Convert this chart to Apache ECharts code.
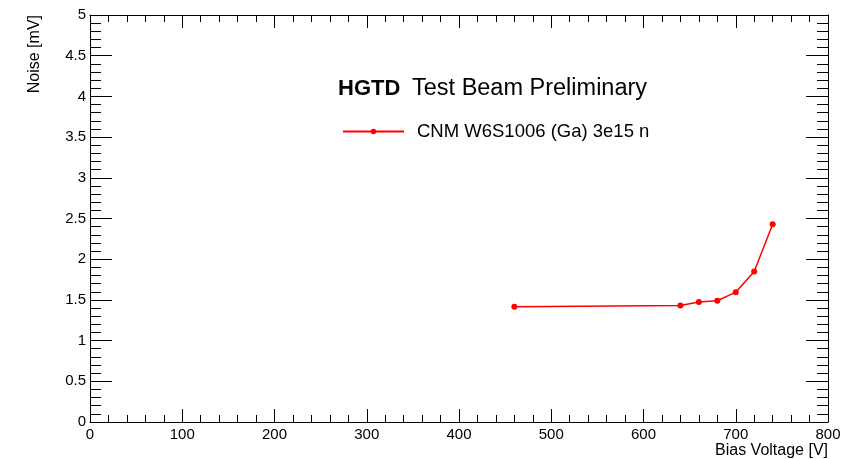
<!DOCTYPE html>
<html><head><meta charset="utf-8">
<script src="https://cdn.jsdelivr.net/npm/echarts@6/dist/echarts.min.js"></script>
<style>html,body{margin:0;padding:0;background:#fff}#c{width:861px;height:459px}</style>
</head><body><div id="c"></div>
<script>
const biasVoltage = [460, 640, 660, 680, 700, 720, 740];
const noise = [1.415, 1.43, 1.475, 1.49, 1.595, 1.85, 2.43];
const seriesName = 'CNM W6S1006 (Ga) 3e15 n';
const xTitle = 'Bias Voltage [V]';
const yTitle = 'Noise [mV]';

const FONT = '"Liberation Sans", Arial, Helvetica, sans-serif';
const chart = echarts.init(document.getElementById('c'), null, {renderer: 'canvas'});

function xAx(pos, showLabel) {
  return {
    type: 'value', position: pos, min: 0, max: 800, interval: 100,
    axisLine: {show: true, onZero: false, lineStyle: {color: '#000', width: 1}},
    axisTick: {show: true, inside: true, length: 13, lineStyle: {color: '#000'}},
    minorTick: {show: true, splitNumber: 5, length: 7, lineStyle: {color: '#000'}},
    splitLine: {show: false}, minorSplitLine: {show: false},
    axisLabel: {show: showLabel, color: '#000', fontSize: 15, fontFamily: FONT, margin: 5}
  };
}
function yAx(pos, showLabel) {
  return {
    type: 'value', position: pos, min: 0, max: 5, interval: 0.5,
    axisLine: {show: true, onZero: false, lineStyle: {color: '#000', width: 1}},
    axisTick: {show: true, inside: true, length: 22, lineStyle: {color: '#000'}},
    minorTick: {show: true, splitNumber: 5, length: 11, lineStyle: {color: '#000'}},
    splitLine: {show: false}, minorSplitLine: {show: false},
    axisLabel: {show: showLabel, color: '#000', fontSize: 15, fontFamily: FONT, margin: 4}
  };
}

chart.setOption({
  animation: false,
  backgroundColor: '#fff',
  grid: {left: 90, right: 33, top: 15, bottom: 37, containLabel: false},
  xAxis: [xAx('bottom', true), xAx('top', false)],
  yAxis: [yAx('left', true), yAx('right', false)],
  legend: {
    show: true, left: 337, top: 117, itemWidth: 61, itemHeight: 7, itemGap: 10,
    textStyle: {color: '#000', fontSize: 18.5, fontFamily: FONT, padding: [0, 0, 0, 8]},
    data: [seriesName]
  },
  series: [{
    name: seriesName, type: 'line', xAxisIndex: 0, yAxisIndex: 0,
    data: biasVoltage.map((v, i) => [v, noise[i]]),
    symbol: 'circle', symbolSize: 6,
    lineStyle: {color: '#ff0000', width: 1.5},
    itemStyle: {color: '#ff0000'}
  }],
  graphic: [
    {type: 'text', left: 338, top: 78, style: {text: 'HGTD', font: 'bold 22px ' + FONT, fill: '#000'}},
    {type: 'text', left: 412, top: 77, style: {text: 'Test Beam Preliminary', font: '23.5px ' + FONT, fill: '#000'}},
    {type: 'text', right: 33, top: 443, style: {text: xTitle, font: '16px ' + FONT, fill: '#000'}},
    {type: 'text', x: 35, y: 15, rotation: Math.PI / 2,
     style: {text: yTitle, font: '16px ' + FONT, fill: '#000', align: 'right', verticalAlign: 'middle'}}
  ]
});
</script></body></html>
